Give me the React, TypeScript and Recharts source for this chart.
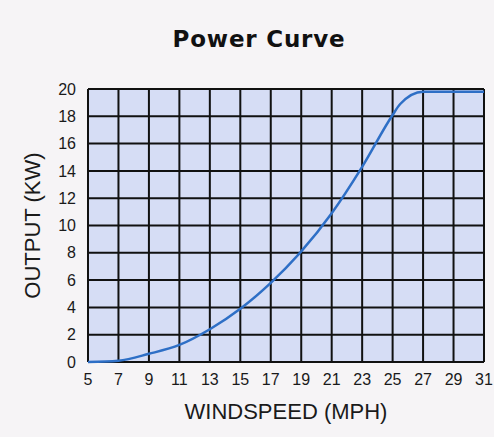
import { CartesianGrid, Label, Line, LineChart, XAxis, YAxis } from 'recharts'

const windspeed = [5, 7, 9, 11, 13, 15, 17, 19, 21, 23, 25, 25.5, 27, 29, 31]
const outputKw = [0, 0.1, 0.6, 1.25, 2.4, 3.9, 5.8, 8.1, 10.9, 14.3, 18.1, 18.9, 19.8, 19.8, 19.8]
const xTicks = [5, 7, 9, 11, 13, 15, 17, 19, 21, 23, 25, 27, 29, 31]
const yTicks = [0, 2, 4, 6, 8, 10, 12, 14, 16, 18, 20]

const data = windspeed.map((w, i) => ({ w, kw: outputKw[i] }))

const font = '"Liberation Sans", Arial, sans-serif'

export default function App() {
  return (
    <div
      style={{
        position: 'absolute',
        left: 0,
        top: 0,
        width: 494,
        height: 437,
        background: '#f6f4f6',
        fontFamily: font,
      }}
    >
      <div
        style={{
          position: 'absolute',
          left: 0,
          width: 518,
          top: 26,
          textAlign: 'center',
          fontFamily: '"DejaVu Sans", sans-serif',
          fontWeight: 900,
          fontSize: 23,
          letterSpacing: 0.8,
          color: '#111',
        }}
      >
        Power Curve
      </div>
      <LineChart
        width={494}
        height={437}
        data={data}
        margin={{ top: 89, right: 10, bottom: 18, left: 48 }}
      >
        <CartesianGrid stroke="#111" strokeWidth={2} fill="#d6ddf5" fillOpacity={1} />
        <XAxis
          dataKey="w"
          type="number"
          domain={[5, 31]}
          ticks={xTicks}
          interval={0}
          axisLine={false}
          tickLine={false}
          height={57}
          tickMargin={6}
          tick={{ fill: '#1a1a1a', fontSize: 16, fontFamily: font }}
        >
          <Label
            value="WINDSPEED (MPH)"
            position="insideBottom"
            offset={0}
            style={{ fill: '#1a1a1a', fontSize: 22, fontFamily: font }}
          />
        </XAxis>
        <YAxis
          type="number"
          domain={[0, 20]}
          ticks={yTicks}
          interval={0}
          axisLine={false}
          tickLine={false}
          width={40}
          tickMargin={6}
          tick={{ fill: '#1a1a1a', fontSize: 16, fontFamily: font }}
        >
          <Label
            value="OUTPUT (KW)"
            angle={-90}
            position="insideLeft"
            offset={-16}
            style={{ fill: '#1a1a1a', fontSize: 22, fontFamily: font, textAnchor: 'middle' }}
          />
        </YAxis>
        <Line
          type="monotone"
          dataKey="kw"
          stroke="#2e6fc6"
          strokeWidth={2.5}
          dot={false}
          isAnimationActive={false}
        />
      </LineChart>
    </div>
  )
}
